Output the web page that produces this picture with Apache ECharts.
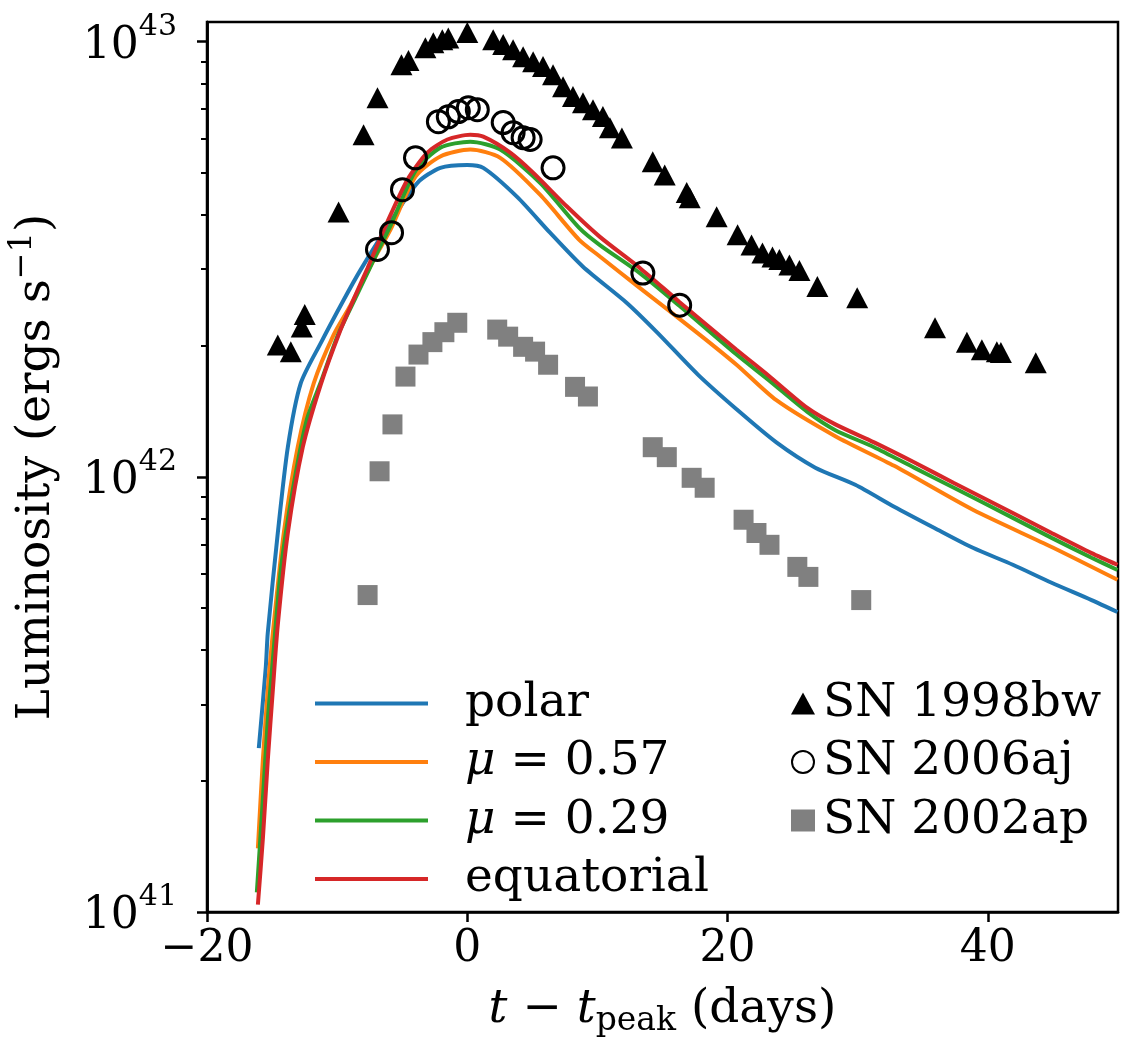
<!DOCTYPE html>
<html lang="en">
<head>
    <meta charset="UTF-8">
    <title>Luminosity light curves</title>
    <script src="https://cdn.jsdelivr.net/npm/echarts@6/dist/echarts.min.js"></script>
    <style>
        html, body { margin: 0; padding: 0; background: #fff; }
        #main { width: 1123px; height: 1063px; }
    </style>
</head>
<body>
<div id="main"></div>
<script>
    // model curves, [t - t_peak (days), L (erg/s)]
    var polar = [[-16.02, 2.38e41], [-15.48, 3.66e41], [-15.33, 4.38e41], [-14.56, 7.43e41], [-13.79, 1.17e42],
        [-12.80, 1.64e42], [-11.26, 2.03e42], [-9.50, 2.55e42], [-8.20, 2.99e42], [-6.13, 3.76e42],
        [-3.83, 4.74e42], [-2.07, 5.13e42], [0, 5.21e42], [1.23, 5.13e42], [3.83, 4.40e42], [6.36, 3.64e42],
        [8.89, 3.04e42], [12.26, 2.51e42], [14.64, 2.14e42], [17.70, 1.72e42], [20.69, 1.43e42],
        [23.75, 1.20e42], [26.74, 1.05e42], [29.81, 9.59e41], [32.80, 8.54e41], [35.86, 7.64e41],
        [38.85, 6.87e41], [41.92, 6.28e41], [44.90, 5.71e41], [47.97, 5.21e41], [49.96, 4.89e41]];
    var mu057 = [[-16.09, 1.40e41], [-15.71, 2.23e41], [-15.33, 3.24e41], [-14.94, 4.38e41], [-14.10, 7.43e41],
        [-13.03, 1.17e42], [-11.80, 1.64e42], [-10.27, 2.12e42], [-8.97, 2.48e42], [-7.05, 3.21e42],
        [-5.90, 3.70e42], [-3.98, 4.90e42], [-2.07, 5.45e42], [0.23, 5.65e42], [2.53, 5.41e42],
        [5.59, 4.45e42], [8.58, 3.51e42], [10.19, 3.21e42], [13.10, 2.74e42], [17.70, 2.14e42],
        [20.69, 1.81e42], [23.75, 1.50e42], [28.28, 1.24e42], [32.80, 1.06e42], [38.85, 8.40e41],
        [44.90, 6.90e41], [49.96, 5.80e41]];
    var mu029 = [[-16.17, 1.11e41], [-15.71, 1.81e41], [-15.33, 2.76e41], [-14.94, 3.79e41], [-14.33, 6.11e41],
        [-13.41, 9.33e41], [-12.34, 1.35e42], [-11.26, 1.65e42], [-9.96, 2.11e42], [-8.58, 2.58e42],
        [-7.05, 3.22e42], [-5.90, 3.78e42], [-3.98, 5.05e42], [-2.07, 5.71e42], [0.23, 5.89e42],
        [2.53, 5.65e42], [5.59, 4.74e42], [8.58, 3.74e42], [10.19, 3.41e42], [13.26, 2.94e42],
        [16.32, 2.47e42], [20.69, 1.91e42], [23.14, 1.67e42], [26.13, 1.41e42], [28.28, 1.28e42],
        [31.26, 1.17e42], [34.33, 1.05e42], [37.39, 9.44e41], [41.92, 8.05e41], [44.90, 7.24e41],
        [47.97, 6.52e41], [49.96, 6.11e41]];
    var equatorial = [[-16.09, 1.04e41], [-15.71, 1.47e41], [-15.33, 2.23e41], [-14.94, 3.24e41], [-14.56, 4.57e41],
        [-13.79, 7.43e41], [-12.64, 1.17e42], [-11.26, 1.63e42], [-9.81, 2.15e42], [-8.58, 2.62e42],
        [-7.66, 3.02e42], [-6.13, 3.86e42], [-4.60, 4.82e42], [-3.07, 5.56e42], [-1.53, 5.96e42],
        [0.23, 6.11e42], [1.23, 6.05e42], [3.30, 5.56e42], [5.06, 5.00e42], [7.66, 4.18e42],
        [10.19, 3.56e42], [13.26, 3.02e42], [16.32, 2.52e42], [20.69, 1.96e42], [23.14, 1.71e42],
        [26.13, 1.44e42], [28.28, 1.32e42], [31.26, 1.20e42], [34.33, 1.08e42], [37.39, 9.68e41],
        [41.92, 8.26e41], [44.90, 7.43e41], [47.97, 6.68e41], [49.96, 6.28e41]];

    // observed supernovae
    var sn1998bw = [[-14.56, 2.01e42], [-13.56, 1.94e42], [-12.72, 2.21e42], [-12.49, 2.36e42], [-9.89, 4.06e42],
        [-7.97, 6.11e42], [-6.90, 7.43e42], [-5.06, 8.85e42], [-4.52, 9.05e42], [-3.22, 9.68e42],
        [-2.61, 9.95e42], [-1.92, 1.01e43], [-1.46, 1.02e43], [0, 1.05e43], [1.99, 1.01e43],
        [2.76, 9.85e42], [3.52, 9.59e42], [4.29, 9.24e42], [5.06, 9.00e42], [5.82, 8.77e42],
        [6.59, 8.40e42], [7.36, 7.88e42], [8.12, 7.48e42], [8.89, 7.24e42], [9.66, 6.98e42],
        [10.42, 6.73e42], [10.96, 6.34e42], [11.88, 6.01e42], [14.25, 5.30e42], [15.17, 4.94e42],
        [16.86, 4.50e42], [17.09, 4.38e42], [19.16, 3.96e42], [20.77, 3.60e42], [21.84, 3.41e42],
        [22.68, 3.27e42], [23.45, 3.20e42], [23.98, 3.16e42], [24.75, 3.07e42], [25.52, 2.98e42],
        [26.90, 2.74e42], [29.96, 2.58e42], [35.94, 2.20e42], [38.39, 2.04e42], [39.54, 1.96e42],
        [40.69, 1.94e42], [41.00, 1.93e42], [43.68, 1.83e42]];
    var sn2006aj = [[-6.90, 3.33e42], [-5.82, 3.64e42], [-4.98, 4.57e42], [-3.98, 5.41e42], [-2.22, 6.55e42],
        [-1.46, 6.72e42], [-0.69, 6.91e42], [0.08, 7.05e42], [0.77, 6.98e42], [2.76, 6.52e42],
        [3.52, 6.18e42], [4.29, 6.02e42], [4.83, 5.96e42], [6.59, 5.13e42], [13.49, 2.94e42],
        [16.32, 2.48e42]];
    var sn2002ap = [[-7.66, 5.35e41], [-6.74, 1.03e42], [-5.75, 1.32e42], [-4.75, 1.70e42], [-3.75, 1.91e42],
        [-2.68, 2.04e42], [-1.76, 2.15e42], [-0.77, 2.26e42], [2.30, 2.18e42], [3.14, 2.10e42],
        [4.29, 1.99e42], [5.21, 1.94e42], [6.21, 1.81e42], [8.28, 1.61e42], [9.27, 1.53e42],
        [14.25, 1.17e42], [15.33, 1.11e42], [17.24, 9.95e41], [18.24, 9.44e41], [21.23, 7.97e41],
        [22.22, 7.43e41], [23.22, 6.98e41], [25.36, 6.21e41], [26.21, 5.89e41], [30.27, 5.21e41]];

    var xTicks = [-20, 0, 20, 40];
    var yMajor = [1e41, 1e42, 1e43];
    var yMinor = [2e41, 3e41, 4e41, 5e41, 6e41, 7e41, 8e41, 9e41, 2e42, 3e42, 4e42, 5e42, 6e42, 7e42, 8e42, 9e42];

    var FONT = 'DejaVu Serif';
    var FS = 47;
    var plotRect = {left: 207, right: 5, top: 22, bottom: 151, outerBoundsMode: 'none', containLabel: false};

    var chart = echarts.init(document.getElementById('main'), null, {renderer: 'canvas'});

    function lineSeries(name, data, color, z) {
        return {
            name: name, type: 'line', data: data, symbol: 'none', smooth: 0.25,
            lineStyle: {color: color, width: 4}, itemStyle: {color: color},
            z: z, clip: true
        };
    }

    function powLabel(v) {
        var e = Math.round(Math.log10(v));
        return '{b|10}{s|' + e + '}';
    }

    var option = {
        animation: false,
        backgroundColor: '#fff',
        grid: [
            Object.assign({show: true, borderColor: '#000', borderWidth: 2.5}, plotRect),
            // twin grid, only for the minor ticks of the log axis
            Object.assign({show: false}, plotRect)
        ],
        xAxis: [{
            type: 'value', min: -20, max: 50, interval: 20,
            splitLine: {show: false},
            axisLine: {onZero: false, lineStyle: {color: '#000', width: 2.5}},
            axisTick: {customValues: xTicks, length: 10, lineStyle: {color: '#000', width: 2.5}},
            axisLabel: {
                customValues: xTicks, margin: 16, color: '#000', fontFamily: FONT, fontSize: 44,
                formatter: function (v) { return v < 0 ? '\u2212' + Math.abs(v) : String(v); }
            },
            name: '{i|t}{n| \u2212 }{i|t}{sub|peak}{n| (days)}',
            nameLocation: 'middle', nameGap: 70,
            nameTextStyle: {
                rich: {
                    i: {fontFamily: FONT, fontSize: FS, fontStyle: 'italic', color: '#000', lineHeight: 56},
                    n: {fontFamily: FONT, fontSize: FS, color: '#000', lineHeight: 56},
                    sub: {fontFamily: FONT, fontSize: 33, color: '#000', lineHeight: 20, verticalAlign: 'bottom'}
                }
            }
        }, {
            gridIndex: 1, type: 'value', min: -20, max: 50, show: false
        }],
        yAxis: [{
            type: 'log', logBase: 10, min: 1e41, max: 1.11e43,
            splitLine: {show: false},
            axisLine: {onZero: false, lineStyle: {color: '#000', width: 2.5}},
            axisTick: {customValues: yMajor, length: 10, lineStyle: {color: '#000', width: 2.5}},
            axisLabel: {
                customValues: yMajor, margin: 30, formatter: powLabel,
                rich: {
                    b: {fontFamily: FONT, fontSize: 44, color: '#000', lineHeight: 60, padding: [10, 0, 0, 0]},
                    s: {fontFamily: FONT, fontSize: 30, color: '#000', lineHeight: 24, verticalAlign: 'top'}
                }
            },
            name: '{n|Luminosity (ergs s}{s|\u22121}{n|)}',
            nameLocation: 'middle', nameGap: 140,
            nameTextStyle: {
                rich: {
                    n: {fontFamily: FONT, fontSize: FS, color: '#000', lineHeight: 60},
                    s: {fontFamily: FONT, fontSize: 32, color: '#000', lineHeight: 26, verticalAlign: 'top'}
                }
            }
        }, {
            gridIndex: 1, type: 'log', logBase: 10, min: 1e41, max: 1.11e43, position: 'left',
            splitLine: {show: false},
            axisLine: {show: true, onZero: false, lineStyle: {color: '#000', width: 2.5}},
            axisTick: {show: true, customValues: yMinor, length: 6, lineStyle: {color: '#000', width: 2}},
            axisLabel: {show: false}
        }],
        legend: [{
            orient: 'vertical', left: 310, top: 675, itemWidth: 113, itemHeight: 20, itemGap: 11.5,
            icon: 'path://M0,8 L113,8 L113,12 L0,12 Z',
            data: ['polar', 'mu057', 'mu029', 'equatorial'],
            formatter: function (n) {
                if (n === 'mu057') return '{i|\u03bc}{n| = 0.57}';
                if (n === 'mu029') return '{i|\u03bc}{n| = 0.29}';
                return '{n|' + n + '}';
            },
            textStyle: {
                padding: [0, 0, 0, 32],
                rich: {
                    i: {fontFamily: FONT, fontSize: FS, fontStyle: 'italic', color: '#000', lineHeight: 47},
                    n: {fontFamily: FONT, fontSize: FS, color: '#000', lineHeight: 47}
                }
            }
        }, {
            orient: 'vertical', left: 786, top: 675, itemWidth: 24, itemHeight: 22, itemGap: 11.5,
            data: ['SN 1998bw', 'SN 2006aj', 'SN 2002ap'],
            textStyle: {fontFamily: FONT, fontSize: FS, color: '#000', lineHeight: 47, padding: [0, 0, 0, 3]}
        }],
        series: [
            lineSeries('polar', polar, '#1f77b4', 2),
            lineSeries('mu057', mu057, '#ff7f0e', 3),
            lineSeries('mu029', mu029, '#2ca02c', 4),
            lineSeries('equatorial', equatorial, '#d62728', 5),
            {
                name: 'SN 1998bw', type: 'scatter', data: sn1998bw, symbol: 'triangle', symbolSize: [22, 21],
                itemStyle: {color: '#000', opacity: 1}, z: 6
            },
            {
                name: 'SN 2006aj', type: 'scatter', data: sn2006aj, symbol: 'circle', symbolSize: 22,
                itemStyle: {color: 'rgba(255,255,255,0)', borderColor: '#000', borderWidth: 3, opacity: 1}, z: 7
            },
            {
                name: 'SN 2002ap', type: 'scatter', data: sn2002ap, symbol: 'rect', symbolSize: 20,
                itemStyle: {color: '#808080', opacity: 1}, z: 6
            }
        ]
    };
    chart.setOption(option);
</script>
</body>
</html>
